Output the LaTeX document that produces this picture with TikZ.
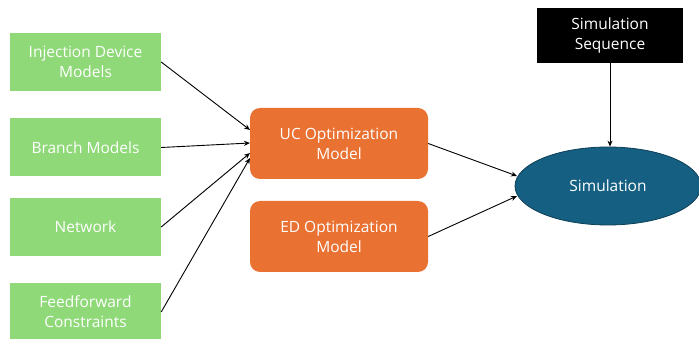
\documentclass[tikz,border=0pt]{standalone}
\usepackage{fontspec}
\setmainfont{Open Sans}
\usetikzlibrary{arrows.meta,shapes.geometric}
\definecolor{boxgreen}{HTML}{8FD978}
\definecolor{boxorange}{HTML}{E97132}
\definecolor{simblue}{HTML}{156082}
\definecolor{simedge}{HTML}{0E3F56}
\tikzset{
  label font/.style={font=\fontsize{15.5}{20}\selectfont},
  inbox/.style={fill=boxgreen, draw=none, minimum width=151pt, minimum height=58pt,
    text=white, align=center, label font, inner sep=0pt},
  optbox/.style={fill=boxorange, draw=none, rounded corners=10pt, minimum width=178pt,
    minimum height=71pt, text=white, align=center, label font, inner sep=0pt},
  seqbox/.style={fill=black, draw=none, minimum width=146pt, minimum height=55pt,
    text=white, align=center, label font, inner sep=0pt},
  simnode/.style={ellipse, fill=simblue, draw=simedge, line width=0.8pt, minimum width=186pt,
    minimum height=78pt, text=white, label font, inner sep=0pt},
  link/.style={draw=black, line width=0.9pt, -{Stealth[length=6pt,width=5pt]}}
}
\begin{document}
\begin{tikzpicture}[x=1pt,y=-1pt]
  \useasboundingbox (0,0) rectangle (699,339);
  % input model blocks
  \node[inbox] (inj) at (85.5,62) {Injection Device\\Models};
  \node[inbox] (br)  at (85.5,147.5) {Branch Models};
  \node[inbox] (net) at (85.5,227) {Network};
  \node[inbox] (ff)  at (85.5,312) {Feedforward\\Constraints};
  % optimization models
  \node[optbox] (uc) at (339,143.5) {UC Optimization\\Model};
  \node[optbox] (ed) at (339,236.5) {ED Optimization\\Model};
  % simulation
  \node[seqbox] (seq) at (610,35.5) {Simulation\\Sequence};
  \node[simnode] (sim) at (608,186) {Simulation};
  % connector end points on the receiving shapes
  \coordinate (ucA) at (250,130);
  \coordinate (ucB) at (250,143);
  \coordinate (ucC) at (250,153);
  \coordinate (ucD) at (250,158);
  \coordinate (simA) at (517,176);
  \coordinate (simB) at (517,196);
  \draw[link] (inj.east) -- (ucA);
  \draw[link] (br.east) -- (ucB);
  \draw[link] (net.east) -- (ucC);
  \draw[link] (ff.east) -- (ucD);
  \draw[link] (uc.east) -- (simA);
  \draw[link] (ed.east) -- (simB);
  \draw[link] (seq.south) -- (sim.north -| seq.south);
\end{tikzpicture}
\end{document}
